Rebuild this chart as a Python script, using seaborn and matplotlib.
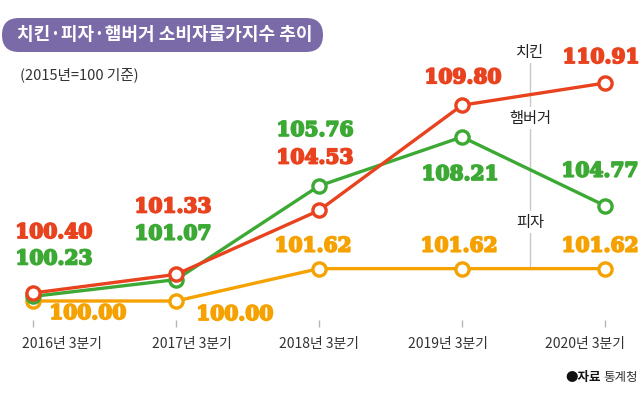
import matplotlib
matplotlib.use('Agg')
import matplotlib.pyplot as plt
import matplotlib.transforms as mtransforms
import matplotlib.patheffects as pe
from matplotlib.patches import FancyBboxPatch
import pandas as pd
import seaborn as sns

# 데이터 (2015년=100)
quarters = ['2016년 3분기', '2017년 3분기', '2018년 3분기', '2019년 3분기', '2020년 3분기']
chicken = [100.40, 101.33, 104.53, 109.80, 110.91]
burger = [100.23, 101.07, 105.76, 108.21, 104.77]
pizza = [100.00, 100.00, 101.62, 101.62, 101.62]

# 값 라벨 위치 (점 기준 픽셀 오프셋)
chicken_off = [(21, 61), (-3, 68), (-4, 53), (1, 28), (-4, 26)]
burger_off = [(21, 38), (-3, 46), (-4, 56), (-2, -37), (-5, 35)]
pizza_off = [(55, -12), (59, -13), (-6, 23), (-3, 23), (-5, 23)]
label_dx = [29, 16, 0, -14, -20]

RED = '#e8421e'
GREEN = '#3da935'
ORANGE = '#f5a200'
PURPLE = '#7a6aa8'

sns.set_style('white')
plt.rcParams['font.family'] = ['Noto Sans CJK KR', 'DejaVu Sans']
plt.rcParams['axes.unicode_minus'] = False

fig = plt.figure(figsize=(6.4, 4.03), dpi=100)
ax = fig.add_axes([0, 83 / 403, 1, 320 / 403])

series = [('피자', pizza, pizza_off, ORANGE, 3),
          ('햄버거', burger, burger_off, GREEN, 4),
          ('치킨', chicken, chicken_off, RED, 5)]

for name, vals, offs, color, z in series:
    df = pd.DataFrame({'x': range(len(vals)), 'v': vals})
    sns.lineplot(data=df, x='x', y='v', ax=ax, color=color, linewidth=2.4,
                 marker='o', markersize=9.5, markerfacecolor='white',
                 markeredgecolor=color, markeredgewidth=2.4, zorder=z, clip_on=False)
    for i, v in enumerate(vals):
        ax.annotate(f'{v:.2f}', (i, v), xytext=offs[i], textcoords='offset pixels',
                    ha='center', va='center', color=color, fontsize=14.5,
                    fontweight='bold', family='DejaVu Serif', zorder=6,
                    path_effects=[pe.withStroke(linewidth=1.3, foreground=color)])

# 범례 역할의 세로선과 이름
lx = 3.476
ax.vlines(lx, pizza[-1], 112.1, color='#c8c8c8', linewidth=1, zorder=1)
for name, y in [('치킨', 112.45), ('햄버거', 109.15), ('피자', 103.95)]:
    ax.text(lx, y, name, ha='center', va='center', fontsize=11, color='#222',
            zorder=2, bbox=dict(facecolor='white', edgecolor='none', pad=2))

ax.set_xlim(-33 / 143, 607 / 143)
ax.set_ylim(100 - 19 / 19.98, 100 + 301 / 19.98)
ax.set_xticks(range(len(quarters)))
ax.set_xticklabels(quarters)
ax.set_yticks([])
ax.set_xlabel('')
ax.set_ylabel('')
ax.tick_params(axis='x', bottom=True, length=5, width=1, color='#b5b5b5',
               pad=7, labelsize=10, labelcolor='#333333')
for lab, dx in zip(ax.get_xticklabels(), label_dx):
    lab.set_transform(lab.get_transform() + mtransforms.ScaledTranslation(dx / 100, 0, fig.dpi_scale_trans))
sns.despine(ax=ax, left=True, bottom=True)

# 제목 상자
fig.patches.append(FancyBboxPatch((2, 403 - 52), 321, 34, boxstyle='round,pad=0,rounding_size=17',
                                  transform=None, facecolor=PURPLE, edgecolor='none'))
fig.text(165 / 640, 1 - 35 / 403, '치킨·피자·햄버거 소비자물가지수 추이', ha='center', va='center',
         color='white', fontsize=13, fontweight='bold')
fig.text(20 / 640, 1 - 75 / 403, '(2015년=100 기준)', ha='left', va='center',
         color='#333333', fontsize=10.5, style='italic')

# 출처
fig.text(638 / 640, 1 - 378 / 403, '통계청', ha='right', va='center', color='#333333', fontsize=9)
fig.text(601 / 640, 1 - 378 / 403, '●자료', ha='right', va='center', color='#111111',
         fontsize=9, fontweight='bold')

fig.savefig('out.png', dpi=100)
